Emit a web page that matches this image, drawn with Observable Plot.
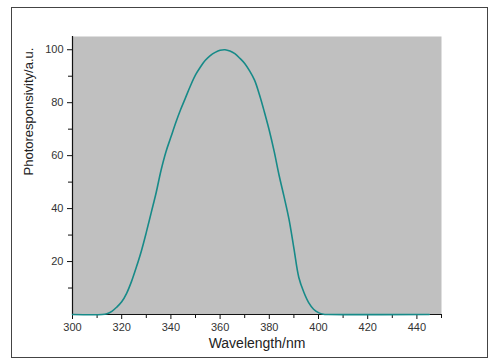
<!DOCTYPE html>
<html>
<head>
<meta charset="utf-8">
<script src="https://cdn.jsdelivr.net/npm/d3@7"></script>
<script src="https://cdn.jsdelivr.net/npm/@observablehq/plot@0.6"></script>
<style>
  html, body { margin: 0; padding: 0; background: #fff; }
  #wrap { position: relative; width: 501px; height: 364px; }
  #border { position: absolute; left: 11px; top: 7px; width: 475px; height: 349px; border: 1px solid #444; pointer-events: none; }
</style>
</head>
<body>
<div id="wrap"><div id="border"></div></div>
<script>
const wavelength = [300, 312, 314, 316, 318, 320, 322, 324, 326, 328, 330, 332, 334, 336, 338, 340, 342, 344, 346, 348, 350, 352, 354, 356, 358, 360, 362, 364, 366, 368, 370, 372, 374, 376, 378, 380, 382, 384, 386, 388, 390, 392, 394, 396, 398, 400, 402, 404, 445];
const response = [0, 0, 0.3, 1.2, 2.8, 4.8, 8, 12.5, 18, 24, 31, 38.5, 46, 54.5, 61.5, 67, 72.5, 77.5, 82, 86.5, 90.5, 93.5, 96, 97.8, 99, 99.8, 100, 99.5, 98.5, 96.8, 94.8, 92, 88.5, 83, 76.5, 69.5, 61.5, 52.5, 44.5, 36, 25, 14, 8.5, 4.5, 2, 0.7, 0.1, 0, 0];
const xTicks = [300, 320, 340, 360, 380, 400, 420, 440];
const xMinor = [310, 330, 350, 370, 390, 410, 430, 450];
const yTicks = [20, 40, 60, 80, 100];
const yMinor = [10, 30, 50, 70, 90];
const xTitle = "Wavelength/nm";
const yTitle = "Photoresponsivity/a.u.";

const data = wavelength.map((w, i) => ({w, r: response[i]}));
const font = "'Liberation Sans', Arial, sans-serif";

const chart = Plot.plot({
  width: 501,
  height: 364,
  marginLeft: 72,
  marginRight: 60,
  marginTop: 36,
  marginBottom: 50,
  style: {fontFamily: font, fontSize: "11px", color: "#333", background: "transparent"},
  x: {domain: [300, 450]},
  y: {domain: [0, 105]},
  marks: [
    Plot.frame({fill: "#c0c0c0", stroke: null}),
    Plot.axisX(xTicks, {tickSize: 5, tickPadding: 4, stroke: "#111", label: null, fill: "#333"}),
    Plot.ruleX(xMinor, {y1: 0, y2: 0, insetBottom: -4, stroke: "#111"}),
    Plot.axisY(yTicks, {tickSize: 5, tickPadding: 4, stroke: "#111", label: null, fill: "#333"}),
    Plot.ruleY(yMinor, {x1: 300, x2: 300, insetLeft: -4, stroke: "#111"}),
    Plot.ruleY([0], {stroke: "#111", strokeWidth: 1.2}),
    Plot.ruleX([300], {stroke: "#111", strokeWidth: 1.2}),
    Plot.line(data, {x: "w", y: "r", stroke: "#178a88", strokeWidth: 1.6, curve: "catmull-rom"}),
    Plot.text([xTitle], {frameAnchor: "bottom", dy: 33, fontSize: 14, fill: "#222"}),
    Plot.text([yTitle], {frameAnchor: "left", dx: -44, rotate: -90, fontSize: 13, fill: "#222"})
  ]
});
chart.style.position = "absolute";
chart.style.left = "0px";
chart.style.top = "0px";
document.getElementById("wrap").appendChild(chart);
</script>
</body>
</html>
